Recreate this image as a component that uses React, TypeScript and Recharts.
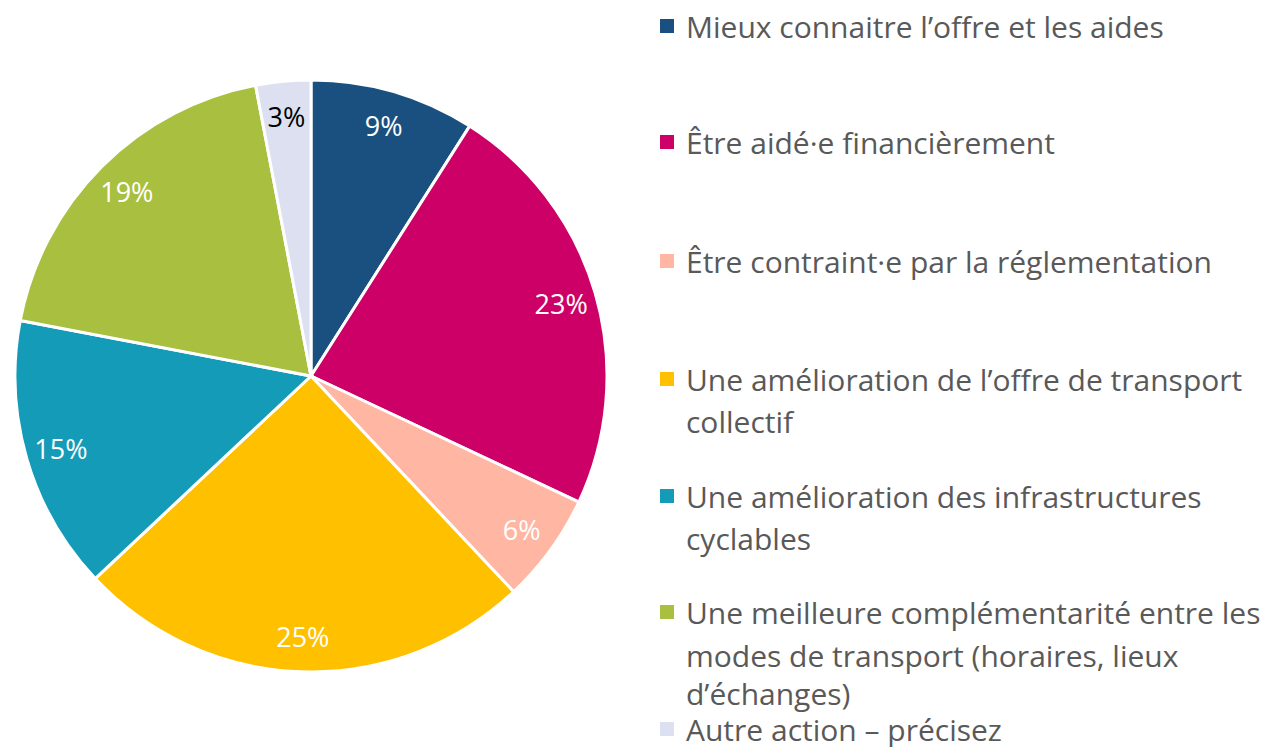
import React from "react";
import { PieChart, Pie, Cell, Legend } from "recharts";

const categories = [
  "Mieux connaitre l’offre et les aides",
  "Être aidé·e financièrement",
  "Être contraint·e par la réglementation",
  "Une amélioration de l’offre de transport collectif",
  "Une amélioration des infrastructures cyclables",
  "Une meilleure complémentarité entre les modes de transport (horaires, lieux d’échanges)",
  "Autre action – précisez",
];
const values = [9, 23, 6, 25, 15, 19, 3];
const legendLines = [
  ["Mieux connaitre l’offre et les aides"],
  ["Être aidé·e financièrement"],
  ["Être contraint·e par la réglementation"],
  ["Une amélioration de l’offre de transport", "collectif"],
  ["Une amélioration des infrastructures", "cyclables"],
  ["Une meilleure complémentarité entre les", "modes de transport (horaires, lieux", "d’échanges)"],
  ["Autre action – précisez"],
];
const colors = ["#1A5080", "#CC0066", "#FFB6A3", "#FFC000", "#139BB8", "#A9BF3F", "#DCE0F0"];
const labelColors = ["#FFFFFF", "#FFFFFF", "#FFFFFF", "#FFFFFF", "#FFFFFF", "#FFFFFF", "#000000"];

const data = categories.map((name, i) => ({ name, value: values[i] }));

const FONT = "'Open Sans', Lato, sans-serif";
const RADIAN = Math.PI / 180;

const renderLabel = (props: any) => {
  const { cx, cy, midAngle, outerRadius, index, value } = props;
  const r = outerRadius * 0.88;
  const x = cx + r * Math.cos(-midAngle * RADIAN);
  const y = cy + r * Math.sin(-midAngle * RADIAN);
  return (
    <text
      x={x}
      y={y}
      fill={labelColors[index]}
      textAnchor="middle"
      dominantBaseline="central"
      fontFamily={FONT}
      fontSize={27}
    >
      {`${value}%`}
    </text>
  );
};

// vertical centres (px) of each legend line
const lineCenters = [[27], [143], [262], [380, 422], [497, 539], [613, 656, 694], [730]];

const renderLegend = () => (
  <div style={{ position: "relative", width: 1268, height: 747 }}>
    {legendLines.map((lines, i) => (
      <React.Fragment key={i}>
        <span
          style={{
            position: "absolute",
            left: 660,
            top: lineCenters[i][0] - 8,
            width: 14,
            height: 14,
            background: colors[i],
          }}
        />
        {lines.map((ln, j) => (
          <div
            key={j}
            style={{
              position: "absolute",
              left: 686,
              top: lineCenters[i][j] - 14,
              height: 28,
              fontFamily: FONT,
              fontSize: 30,
              lineHeight: "28px",
              color: "#595959",
              whiteSpace: "nowrap",
            }}
          >
            {ln}
          </div>
        ))}
      </React.Fragment>
    ))}
  </div>
);

export default function App() {
  return (
    <div style={{ position: "absolute", left: 0, top: 0, width: 1268, height: 747, background: "#fff", overflow: "hidden" }}>
      <PieChart width={1268} height={747} margin={{ top: 0, right: 0, bottom: 0, left: 0 }}>
        <Pie
          data={data}
          dataKey="value"
          nameKey="name"
          cx={311}
          cy={376}
          outerRadius={296}
          startAngle={90}
          endAngle={-270}
          stroke="#FFFFFF"
          strokeWidth={3}
          label={renderLabel}
          labelLine={false}
          isAnimationActive={false}
        >
          {data.map((_, i) => (
            <Cell key={i} fill={colors[i]} />
          ))}
        </Pie>
        <Legend
          content={renderLegend}
          wrapperStyle={{ position: "absolute", left: 0, top: 0, width: 1268, height: 747 }}
        />
      </PieChart>
    </div>
  );
}
